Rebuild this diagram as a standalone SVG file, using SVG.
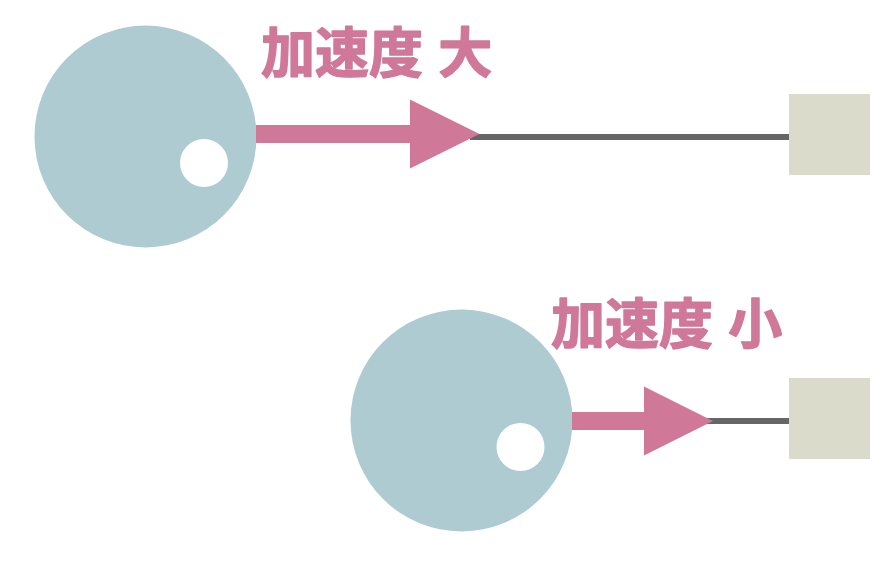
<svg xmlns="http://www.w3.org/2000/svg" width="894" height="562" viewBox="0 0 894 562">
  <style>
    .ball { fill: #adcbd1; }
    .hole { fill: #ffffff; }
    .arrow { fill: #d07898; }
    .rope { stroke: #666666; stroke-width: 6; fill: none; }
    .block { fill: #dadbcb; }
    .label { font-family: "Noto Sans CJK JP", "Noto Sans CJK SC", sans-serif; font-weight: bold; font-size: 54px; fill: #d07898; stroke: #d07898; stroke-width: 1.5; stroke-linejoin: round; word-spacing: 3px; }
  </style>
  <rect width="894" height="562" fill="#ffffff"/>
  <g id="connectors">
    <line class="rope" x1="470" y1="137" x2="790" y2="137"/>
    <line class="rope" x1="705" y1="421" x2="790" y2="421"/>
  </g>
  <g id="ball-large">
    <circle class="ball" cx="145.5" cy="136.5" r="111"/>
    <circle class="hole" cx="204" cy="163" r="24"/>
  </g>
  <g id="arrow-large">
    <polygon class="arrow" points="256,125 410,125 410,99.5 479.5,134 410,168.5 410,143 256,143"/>
  </g>
  <g id="label-large">
    <text class="label" x="261" y="73">加速度 大</text>
  </g>
  <g id="block-top">
    <rect class="block" x="789" y="94" width="81" height="81"/>
  </g>
  <g id="ball-small">
    <circle class="ball" cx="461.5" cy="420.5" r="111"/>
    <circle class="hole" cx="520.5" cy="447" r="24"/>
  </g>
  <g id="arrow-small">
    <polygon class="arrow" points="572,412 644,412 644,386.5 713,421 644,455.5 644,430 572,430"/>
  </g>
  <g id="label-small">
    <text class="label" x="551" y="344">加速度 小</text>
  </g>
  <g id="block-bottom">
    <rect class="block" x="789" y="378" width="81" height="81"/>
  </g>
</svg>
